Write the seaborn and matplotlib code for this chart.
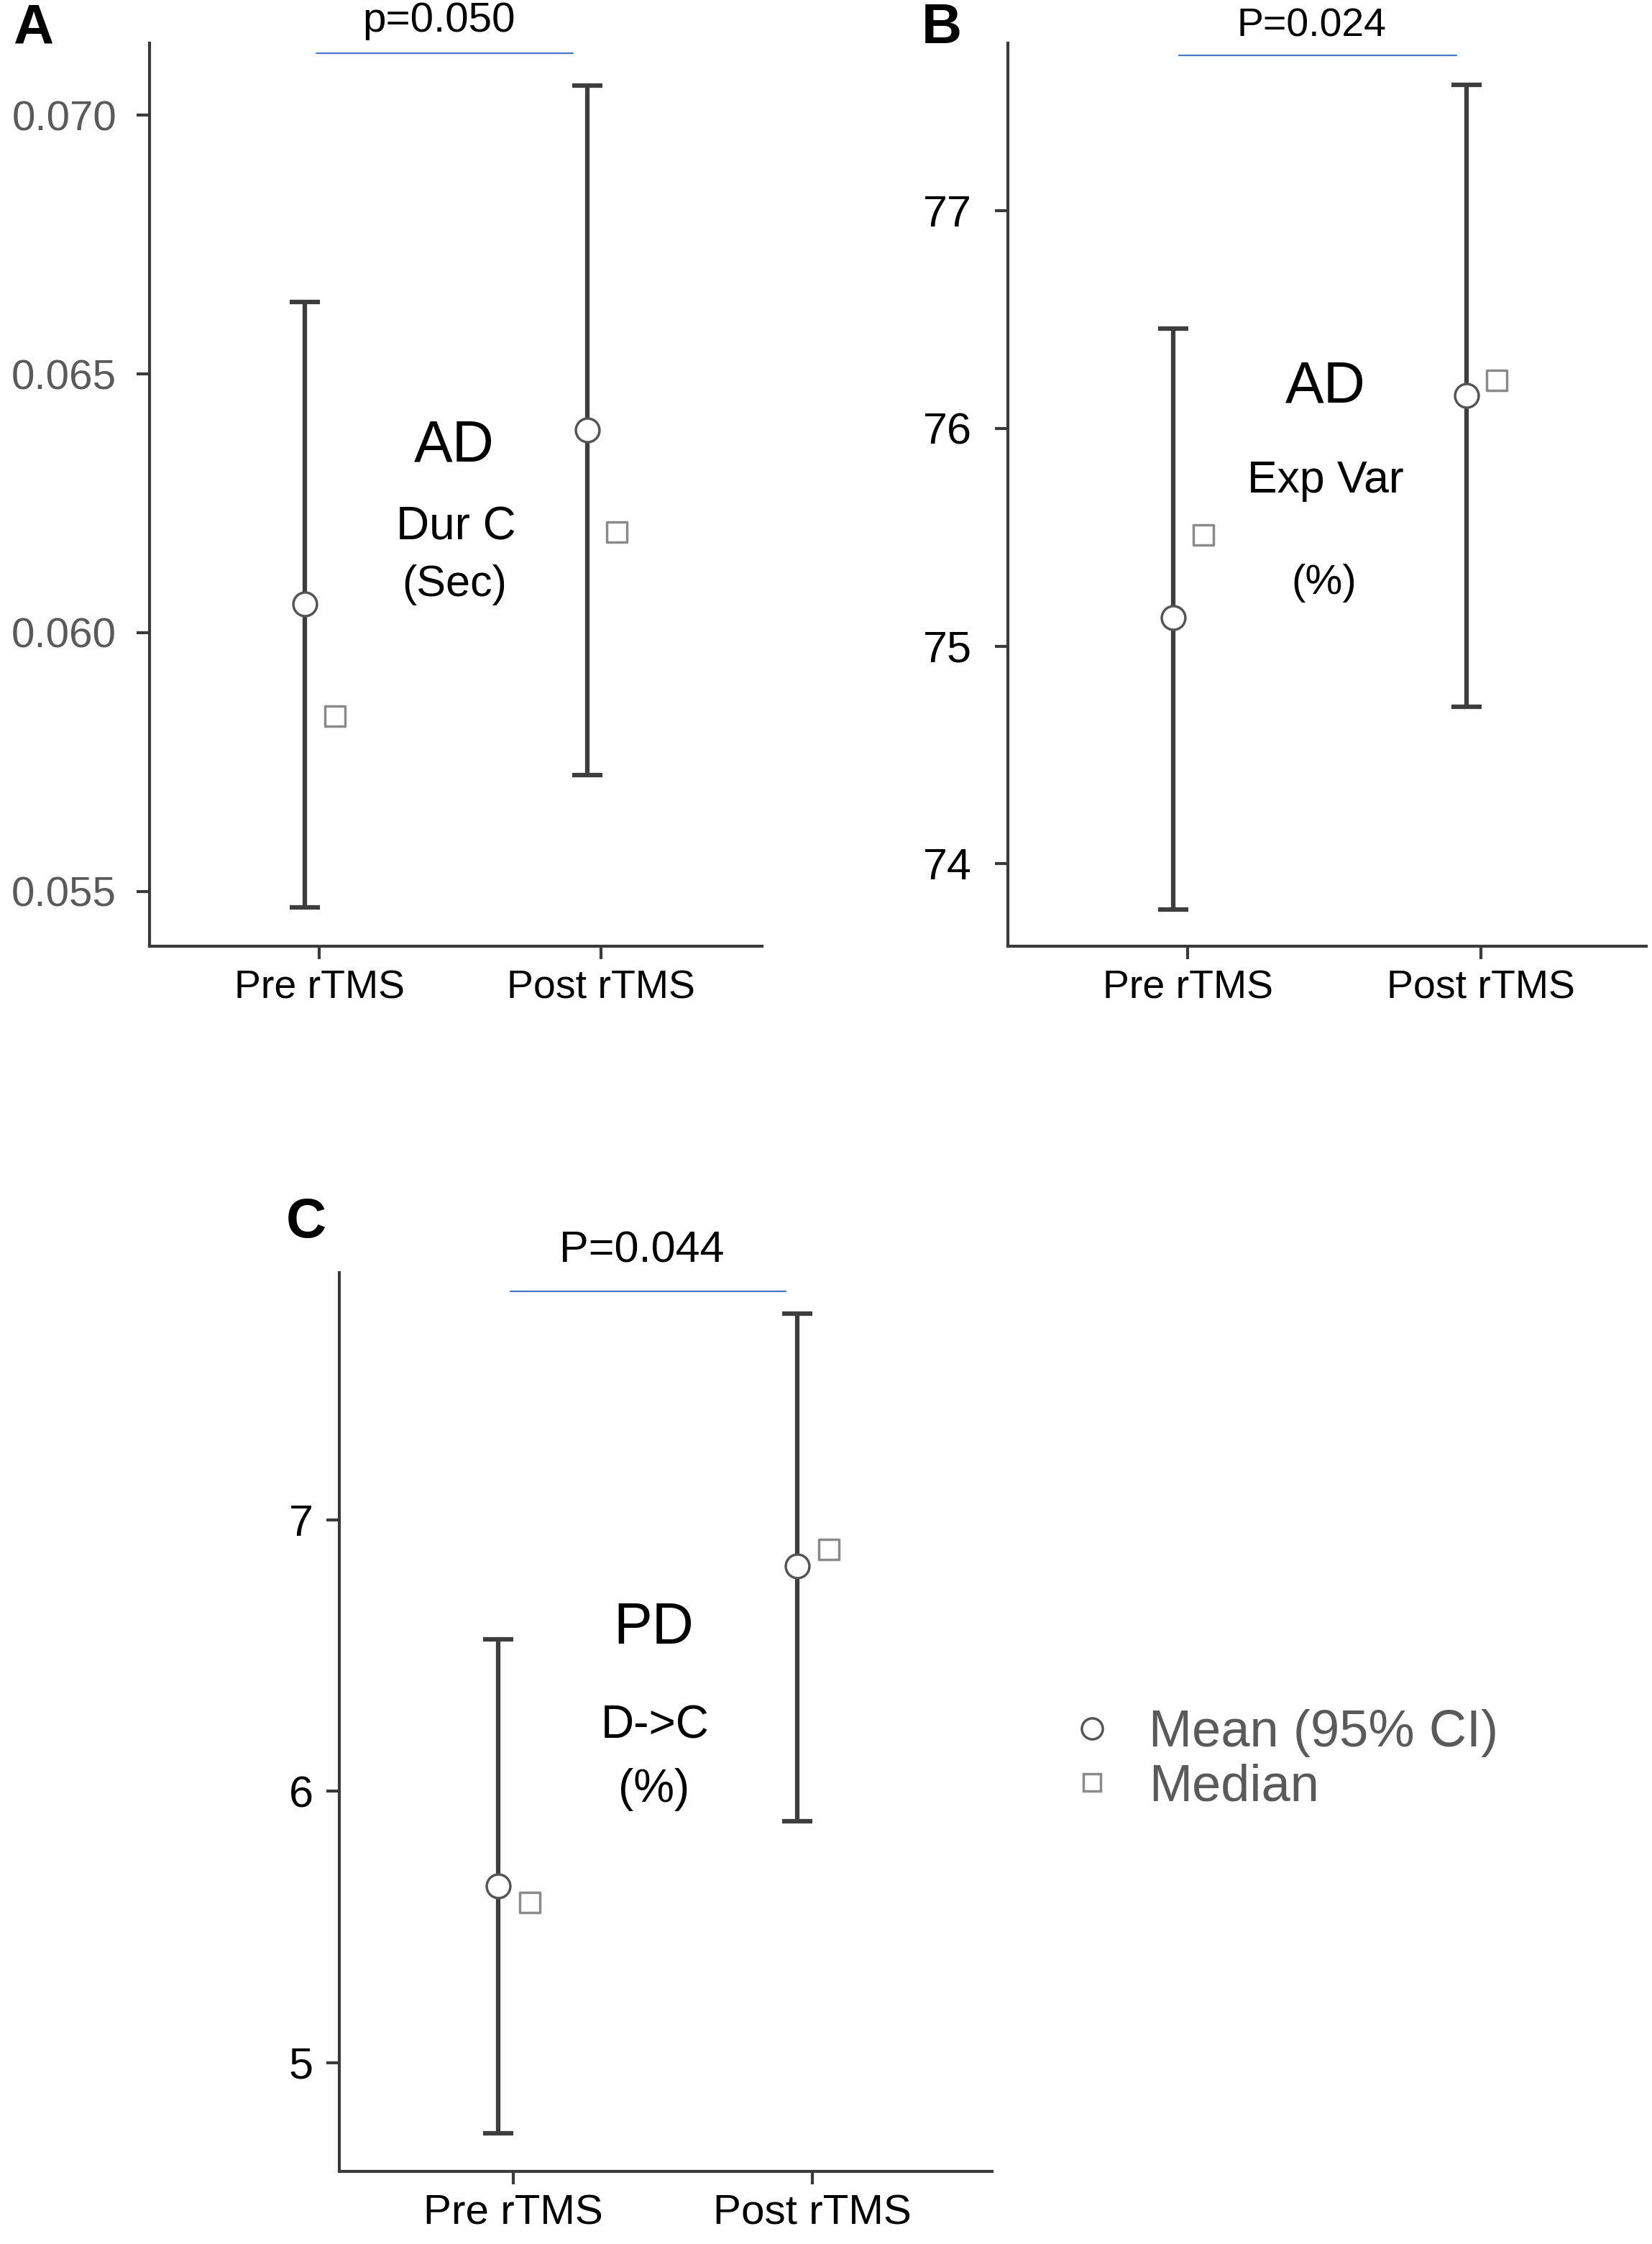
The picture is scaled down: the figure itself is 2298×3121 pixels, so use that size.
import numpy as np
import matplotlib
matplotlib.use("Agg")
import matplotlib.pyplot as plt
from matplotlib import font_manager
from matplotlib.lines import Line2D
import seaborn as sns

conditions = ["Pre rTMS", "Post rTMS"]

# A: AD, duration of microstate C (sec)
dur_mean = [0.06056, 0.06392]
dur_lo = [0.05469, 0.05725]
dur_hi = [0.06639, 0.07058]
dur_median = [0.05839, 0.06194]
dur_ticks = [0.055, 0.060, 0.065, 0.070]

# B: AD, explained variance (%)
var_mean = [75.13, 76.15]
var_lo = [73.79, 74.72]
var_hi = [76.46, 77.58]
var_median = [75.51, 76.22]
var_ticks = [74, 75, 76, 77]

# C: PD, D->C transition (%)
dc_mean = [5.65, 6.83]
dc_lo = [4.74, 5.89]
dc_hi = [6.56, 7.76]
dc_median = [5.59, 6.89]
dc_ticks = [5, 6, 7]

sns.set_style("white")
installed = {f.name for f in font_manager.fontManager.ttflist}
NARROW = "Liberation Sans Narrow" if "Liberation Sans Narrow" in installed else "Liberation Sans"
plt.rcParams["font.family"] = ["Liberation Sans", "DejaVu Sans"]

ERR = "#3d3d3d"
SPINE = "#3a3a3a"
PBLUE = "#4a78c8"


def draw_panel(ax, mean, lo, hi, median, ticks, tickfmt, ylim, xlim,
               tickfont, tickcolor, ticksize, tickpad, xfont, xsize,
               pline, ptext, notes):
    pos = np.arange(len(conditions))
    mean = np.asarray(mean)
    yerr = [mean - np.asarray(lo), np.asarray(hi) - mean]
    ax.errorbar(pos - 0.05, mean, yerr=yerr, fmt="none", ecolor=ERR,
                elinewidth=4.5, capsize=15, capthick=4.5, zorder=2)
    sns.scatterplot(x=pos - 0.05, y=mean, ax=ax, marker="o", s=560,
                    color="white", edgecolor="#555555", linewidth=2.5, zorder=3)
    sns.scatterplot(x=pos + 0.055, y=median, ax=ax, marker="s", s=420,
                    color="white", edgecolor="#8a8a8a", linewidth=2.5, zorder=3)

    ax.set_xlim(*xlim)
    ax.set_ylim(*ylim)
    ax.set_xticks(pos)
    ax.set_xticklabels(conditions, family=xfont, fontsize=xsize, color="black")
    ax.set_yticks(ticks)
    ax.set_yticklabels([tickfmt.format(t) for t in ticks], family=tickfont,
                       fontsize=ticksize, color=tickcolor)
    ax.tick_params(axis="y", length=13, width=3, color=SPINE, pad=tickpad, left=True)
    ax.tick_params(axis="x", length=13, width=3, color=SPINE, pad=10, bottom=True)
    for side in ["top", "right"]:
        ax.spines[side].set_visible(False)
    for side in ["left", "bottom"]:
        ax.spines[side].set_linewidth(3)
        ax.spines[side].set_color(SPINE)
    ax.grid(False)

    x0, x1, py, label, ty, pfont, psize = pline + ptext
    ax.plot([x0, x1], [py, py], color=PBLUE, lw=1.6, clip_on=False)
    ax.text((x0 + x1) / 2 - 0.02, ty, label, ha="center", va="center",
            family=pfont, fontsize=psize, color="black")
    for tx, ty2, txt, fam, fs in notes:
        ax.text(tx, ty2, txt, ha="center", va="center", family=fam,
                fontsize=fs, color="black")


fig = plt.figure(figsize=(22.98, 31.21), dpi=100)

axA = fig.add_axes([0.0905, 0.5783, 0.3708, 0.4024])
draw_panel(axA, dur_mean, dur_lo, dur_hi, dur_median, dur_ticks, "{:.3f}",
           (0.05394, 0.07139), (-0.602, 1.571),
           "Liberation Sans", "#5a5a5a", 42, 20, "Liberation Sans", 40,
           (-0.01, 0.90, 0.0712), ("p=0.050", 0.07182, "Liberation Sans", 42),
           [(0.48, 0.06361, "AD", "Liberation Sans", 58),
            (0.485, 0.06203, "Dur C", "Liberation Sans", 46),
            (0.48, 0.06092, "(Sec)", "Liberation Sans", 44)])

axB = fig.add_axes([0.6101, 0.5783, 0.3864, 0.4024])
draw_panel(axB, var_mean, var_lo, var_hi, var_median, var_ticks, "{:d}",
           (73.62, 77.77), (-0.613, 1.564),
           "Liberation Sans", "black", 44, 23, "Liberation Sans", 40,
           (-0.03, 0.917, 77.715), ("P=0.024", 77.85, "Liberation Sans", 40),
           [(0.47, 76.19, "AD", "Liberation Sans", 58),
            (0.47, 75.76, "Exp Var", "Liberation Sans", 45),
            (0.465, 75.29, "(%)", "Liberation Sans", 42)])

axC = fig.add_axes([0.2054, 0.0324, 0.3951, 0.4005])
draw_panel(axC, dc_mean, dc_lo, dc_hi, dc_median, dc_ticks, "{:d}",
           (4.60, 7.91), (-0.582, 1.601),
           NARROW, "black", 44, 13, NARROW, 42,
           (-0.01, 0.91, 7.84), ("P=0.044", 7.99, NARROW, 44),
           [(0.47, 6.60, "PD", NARROW, 58),
            (0.475, 6.24, "D->C", NARROW, 46),
            (0.47, 6.005, "(%)", NARROW, 46)])

# panel letters
for x, y, letter in [(0.0078, 0.9872, "A"), (0.5700, 0.9872, "B"), (0.1854, 0.4553, "C")]:
    fig.text(x, y, letter, ha="left" if letter == "A" else "center", va="center",
             fontsize=56, fontweight="bold", family="Liberation Sans", color="black")

handles = [
    Line2D([], [], linestyle="none", marker="o", markersize=21,
           markerfacecolor="white", markeredgecolor="#555555", markeredgewidth=2.5),
    Line2D([], [], linestyle="none", marker="s", markersize=17,
           markerfacecolor="white", markeredgecolor="#8a8a8a", markeredgewidth=2.5),
]
leg = fig.legend(handles, ["Mean (95% CI)", "Median"], loc="center left",
                 bbox_to_anchor=(0.617, 0.2155), frameon=False,
                 prop={"family": NARROW, "size": 52}, handletextpad=0.6,
                 labelspacing=0.12, handlelength=1.0)
for t in leg.get_texts():
    t.set_color("#5a5a5a")

fig.savefig("out.png", dpi=100)
